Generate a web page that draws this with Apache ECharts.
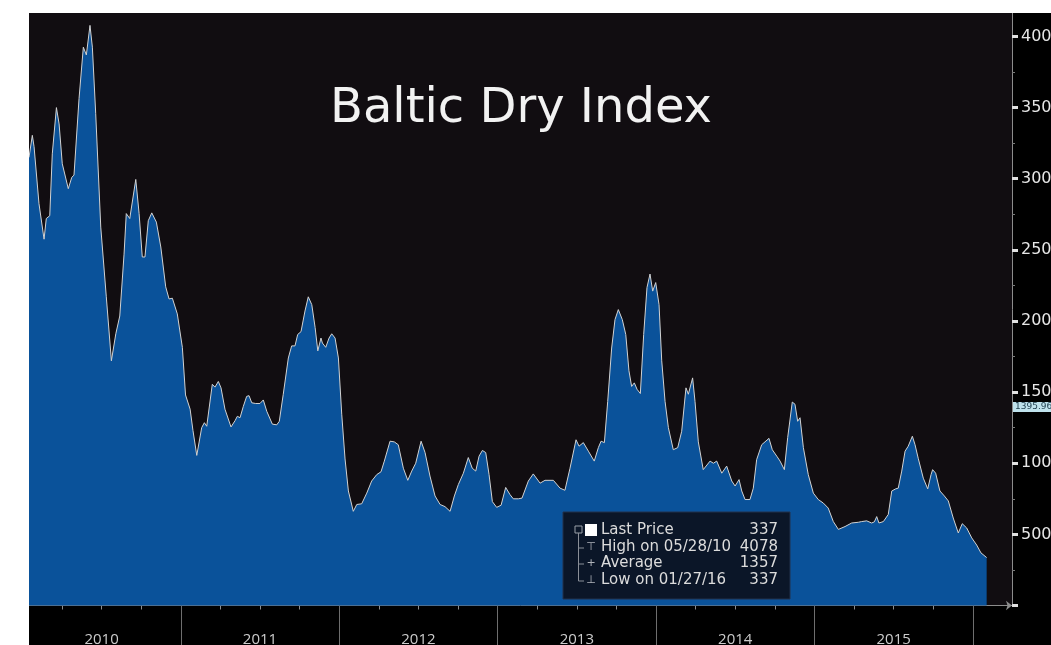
<!DOCTYPE html>
<html><head><meta charset="utf-8">
<script src="https://cdn.jsdelivr.net/npm/echarts@6/dist/echarts.min.js"></script>
<style>
html,body{margin:0;padding:0;background:#fff;width:1051px;height:645px;overflow:hidden}
#c{position:absolute;left:29px;top:13px;width:1022px;height:632px;background:#000}
</style></head><body><div id="c"></div>
<script>
const chartTitle = 'Baltic Dry Index';
// time in fractional years
const times = [
2010.042,2010.063,2010.074,2010.105,2010.137,2010.151,2010.173,2010.189,2010.215,2010.232,
2010.252,2010.290,2010.312,2010.326,2010.358,2010.385,2010.404,2010.427,2010.442,2010.463,
2010.495,2010.530,2010.562,2010.590,2010.615,2010.642,2010.656,2010.678,2010.716,2010.737,
2010.757,2010.774,2010.795,2010.817,2010.846,2010.874,2010.905,2010.926,2010.947,2010.978,
2011.010,2011.030,2011.059,2011.077,2011.101,2011.132,2011.149,2011.164,2011.199,2011.216,
2011.237,2011.254,2011.279,2011.317,2011.343,2011.357,2011.374,2011.395,2011.416,2011.431,
2011.448,2011.473,2011.500,2011.521,2011.543,2011.578,2011.606,2011.622,2011.647,2011.679,
2011.700,2011.721,2011.738,2011.759,2011.784,2011.805,2011.827,2011.848,2011.865,2011.885,
2011.894,2011.915,2011.936,2011.953,2011.974,2011.995,2012.016,2012.037,2012.058,2012.089,
2012.111,2012.142,2012.174,2012.205,2012.237,2012.264,2012.285,2012.321,2012.348,2012.373,
2012.405,2012.433,2012.458,2012.483,2012.517,2012.542,2012.573,2012.605,2012.637,2012.668,
2012.700,2012.727,2012.752,2012.784,2012.815,2012.840,2012.862,2012.883,2012.904,2012.925,
2012.946,2012.967,2012.994,2013.022,2013.051,2013.078,2013.099,2013.131,2013.154,2013.194,
2013.225,2013.268,2013.299,2013.352,2013.394,2013.425,2013.457,2013.495,2013.514,2013.541,
2013.573,2013.610,2013.636,2013.653,2013.674,2013.695,2013.720,2013.741,2013.762,2013.787,
2013.809,2013.829,2013.846,2013.863,2013.880,2013.901,2013.922,2013.943,2013.962,2013.979,
2013.998,2014.019,2014.036,2014.057,2014.078,2014.109,2014.137,2014.162,2014.189,2014.204,
2014.231,2014.246,2014.267,2014.298,2014.341,2014.362,2014.383,2014.415,2014.446,2014.478,
2014.499,2014.524,2014.541,2014.562,2014.593,2014.614,2014.635,2014.667,2014.713,2014.734,
2014.762,2014.783,2014.810,2014.831,2014.860,2014.877,2014.894,2014.909,2014.930,2014.961,
2014.993,2015.024,2015.056,2015.087,2015.119,2015.151,2015.193,2015.235,2015.277,2015.298,
2015.330,2015.361,2015.378,2015.393,2015.407,2015.435,2015.466,2015.488,2015.513,2015.529,
2015.551,2015.572,2015.592,2015.618,2015.635,2015.655,2015.687,2015.715,2015.736,2015.746,
2015.765,2015.792,2015.820,2015.845,2015.876,2015.908,2015.933,2015.961,2015.993,2016.024,
2016.051,2016.087
];
const values = [
3150,3305,3225,2825,2575,2720,2740,3175,3500,3385,
3105,2930,3010,3025,3565,3925,3870,4078,3925,3460,
2660,2170,1720,1910,2035,2470,2755,2720,2995,2755,
2450,2450,2705,2760,2695,2520,2240,2155,2160,2050,
1815,1480,1380,1230,1055,1250,1285,1260,1555,1535,
1575,1530,1380,1255,1300,1330,1320,1400,1470,1475,
1425,1420,1420,1445,1365,1275,1270,1295,1485,1740,
1825,1825,1905,1925,2070,2170,2115,1955,1790,1880,
1845,1815,1880,1910,1880,1740,1345,1030,805,662,
710,715,790,875,920,940,1015,1155,1150,1130,
965,880,945,1000,1155,1075,910,770,710,695,
662,770,850,930,1040,965,945,1050,1090,1075,
920,730,690,705,830,780,750,750,755,875,
925,860,880,880,825,810,965,1165,1120,1145,
1085,1015,1110,1155,1145,1435,1810,2010,2080,2010,
1905,1650,1540,1565,1520,1490,1905,2235,2330,2210,
2270,2115,1720,1435,1250,1095,1110,1225,1530,1485,
1600,1435,1150,955,1015,1000,1015,930,980,875,
840,885,805,745,745,825,1025,1130,1175,1095,
1050,1015,955,1180,1430,1415,1295,1320,1110,920,
790,745,720,685,590,535,555,580,585,590,
595,580,588,625,580,590,640,805,820,825,
945,1085,1120,1190,1130,1035,895,820,920,955,
930,805,770,735,615,510,575,545,475,425,
370,337
];
const yTickValues = [0,500,1000,1500,2000,2500,3000,3500,4000];
const years = [2010,2011,2012,2013,2014,2015];
const statLabels = ['Last Price','High on 05/28/10','Average','Low on 01/27/16'];
const statValues = ['337','4078','1357','337'];
const markerValue = 1395.96;
const markerText = '1395.96';

const xMin = 2010.042, xMax = 2016.247;
const yearBounds = years.map(y => y + 1);
const yearMids = years.map(y => y + 0.5);
const quarterTicks = [];
years.forEach(y => [0.25,0.5,0.75].forEach(q => quarterTicks.push(y + q)));

const data = times.map((t, i) => [t, values[i]]);
const FONT = 'DejaVu Sans';

const chart = echarts.init(document.getElementById('c'), null, {renderer: 'canvas'});

const rowY = [517, 534, 550, 567];
const gfx = [
  {type:'rect', shape:{x:534,y:499,width:227,height:87}, style:{fill:'#0b1628', stroke:'#22304a', lineWidth:1}, z:100},
  {type:'rect', shape:{x:546,y:513,width:7,height:7}, style:{fill:'none', stroke:'#9aa0a8', lineWidth:1}, z:101},
  {type:'line', shape:{x1:549.5,y1:520,x2:549.5,y2:568}, style:{stroke:'#8a8f98', lineWidth:1}, z:101},
  {type:'rect', shape:{x:556,y:511,width:12,height:12}, style:{fill:'#ffffff'}, z:101}
];
[1,2,3].forEach(i => {
  gfx.push({type:'line', shape:{x1:549.5,y1:rowY[i]+1,x2:555,y2:rowY[i]+1}, style:{stroke:'#8a8f98', lineWidth:1}, z:101});
});
const glyphs = ['', '\u22A4', '+', '\u22A5'];
statLabels.forEach((s, i) => {
  if (glyphs[i]) gfx.push({type:'text', x:562, y:rowY[i], style:{text:glyphs[i], fill:'#b0b4ba', font:'11px "DejaVu Sans"', textAlign:'center', textVerticalAlign:'middle'}, z:102});
  gfx.push({type:'text', x:572, y:rowY[i], style:{text:s, fill:'#dcdcdc', font:'15px "DejaVu Sans"', textAlign:'left', textVerticalAlign:'middle'}, z:102});
  gfx.push({type:'text', x:749, y:rowY[i], style:{text:statValues[i], fill:'#dcdcdc', font:'15px "DejaVu Sans"', textAlign:'right', textVerticalAlign:'middle'}, z:102});
});

const baseX = {type:'value', min:xMin, max:xMax, gridIndex:0, position:'bottom', splitLine:{show:false}};

chart.setOption({
  animation:false,
  backgroundColor:'#000',
  title:{text:chartTitle, left:296, top:68, textStyle:{color:'#f2f2f2', fontSize:48, fontWeight:'normal', fontFamily:FONT}},
  grid:{left:0, top:0, right:39, bottom:39.5, show:true, backgroundColor:'#110d11', borderWidth:0, containLabel:false, outerBoundsMode:'none'},
  xAxis:[
    Object.assign({}, baseX, {axisLine:{show:true, lineStyle:{color:'#8c8c8c', width:1}, symbol:['none','arrow'], symbolSize:[7,6]}, axisTick:{show:false}, axisLabel:{show:false}}),
    Object.assign({}, baseX, {axisLine:{show:false}, axisTick:{show:true, customValues:yearBounds, length:42, lineStyle:{color:'#6e6e6e', width:1}},
      axisLabel:{show:true, customValues:yearMids, formatter:v => String(Math.floor(v)), margin:27, color:'#cccccc', fontSize:15, fontFamily:'Open Sans'}}),
    Object.assign({}, baseX, {axisLine:{show:false}, axisTick:{show:true, customValues:quarterTicks, length:4, lineStyle:{color:'#8c8c8c', width:1}}, axisLabel:{show:false}})
  ],
  yAxis:{type:'value', position:'right', min:0, max:4165, interval:500,
    splitLine:{show:false},
    axisLine:{show:true, lineStyle:{color:'#8c8c8c', width:1}},
    axisTick:{show:true, customValues:yTickValues, length:6, lineStyle:{color:'#e0e0e0', width:3}},
    minorTick:{show:true, splitNumber:2, length:3, lineStyle:{color:'#7a7a7a', width:1}},
    axisLabel:{show:true, customValues:yTickValues, formatter:v => (v === 0 ? '' : String(v)), margin:9, color:'#e6e6e6', fontSize:16, fontFamily:FONT}
  },
  series:[{
    type:'line', xAxisIndex:0, yAxisIndex:0, data:data, showSymbol:false, symbol:'none',
    lineStyle:{color:'#d2d2d2', width:1},
    areaStyle:{color:'#0a529a', opacity:1},
    markLine:{silent:true, symbol:'none', data:[{yAxis:markerValue}], lineStyle:{color:'rgba(0,0,0,0)', width:0, opacity:1},
      label:{show:true, position:'end', formatter:markerText, distance:1, opacity:1, backgroundColor:'#bfe2ec', color:'#1d3d4c', fontSize:9, fontFamily:FONT, padding:[1,2,0,2]}}
  }],
  graphic:gfx
});
</script></body></html>
